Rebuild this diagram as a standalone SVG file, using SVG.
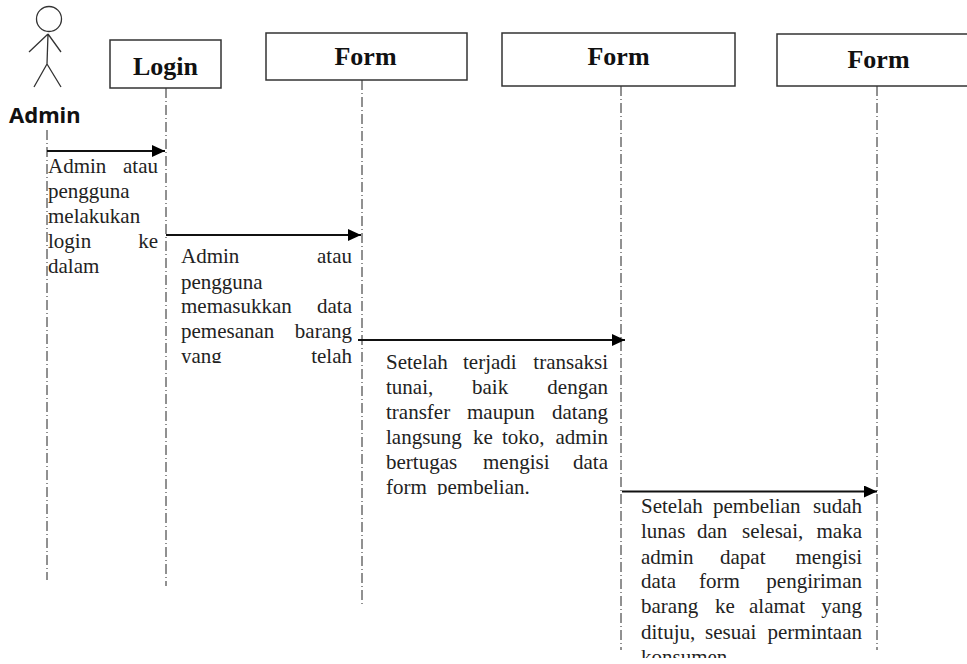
<svg xmlns="http://www.w3.org/2000/svg" width="967" height="664" viewBox="0 0 967 664">
<style>
.box{fill:#fff;stroke:#333;stroke-width:1.5}
.title{font-family:"Liberation Serif",serif;font-weight:bold;font-size:26px;fill:#111;text-anchor:middle}
.life{fill:none;stroke:#222;stroke-width:1;stroke-dasharray:10 3 1 3}
.msg{fill:none;stroke:#111;stroke-width:2;marker-end:url(#arrow)}
.t{font-family:"Liberation Serif",serif;font-size:21px;fill:#222}
.e{text-anchor:end}
.stick{fill:none;stroke:#333;stroke-width:1.3}
</style>
<defs>
<marker id="arrow" markerUnits="userSpaceOnUse" markerWidth="13" markerHeight="13" refX="13" refY="6" orient="auto"><path d="M0 0L13 6L0 12Z" fill="#000"/></marker>
<clipPath id="c2"><rect x="170" y="240" width="190" height="123"/></clipPath>
<clipPath id="c3"><rect x="370" y="345" width="245" height="150"/></clipPath>
<clipPath id="c4"><rect x="630" y="495" width="240" height="163"/></clipPath>
</defs>
<g id="connectors">
<path class="life" d="M47 130V580"/>
<path class="life" d="M166 88V586"/>
<path class="life" d="M362 80V606"/>
<path class="life" d="M621 86V650"/>
<path class="life" d="M877 86V650"/>
<path class="msg" d="M47 151H165"/>
<path class="msg" d="M166 235H361"/>
<path class="msg" d="M358 340H625"/>
<path class="msg" d="M622 491.500H877"/>
</g>
<g id="actor-admin">
<circle class="stick" cx="49" cy="19" r="12.500"/>
<path class="stick" d="M48 34L47 64M48 34L29 52M48 34L61 52M47 64L34 87M47 64L61 87"/>
<text x="9" y="123" font-family="'Noto Sans',sans-serif" font-weight="bold" font-size="22px" fill="#111">Admin</text>
</g>
<g id="node-login"><rect class="box" x="110" y="40" width="111" height="48"/><text class="title" x="165.500" y="75">Login</text></g>
<g id="node-form1"><rect class="box" x="266" y="33" width="201" height="47"/><text class="title" x="365.500" y="65">Form</text></g>
<g id="node-form2"><rect class="box" x="502" y="33" width="233" height="53"/><text class="title" x="618.500" y="65">Form</text></g>
<g id="node-form3"><rect class="box" x="777" y="34" width="192" height="52"/><text class="title" x="878.500" y="68">Form</text></g>
<g id="label-1">
<text class="t" x="48" y="173">Admin</text><text class="t e" x="158" y="173">atau</text>
<text class="t" x="48" y="198">pengguna</text>
<text class="t" x="48" y="223">melakukan</text>
<text class="t" x="48" y="248">login</text><text class="t e" x="158" y="248">ke</text>
<text class="t" x="48" y="273">dalam</text>
</g>
<g id="label-2" clip-path="url(#c2)">
<text class="t" x="181" y="263">Admin</text><text class="t e" x="352" y="263">atau</text>
<text class="t" x="181" y="289">pengguna</text>
<text class="t" x="181" y="313">memasukkan</text><text class="t e" x="352" y="313">data</text>
<text class="t" x="181" y="338">pemesanan</text><text class="t e" x="352" y="338">barang</text>
<text class="t" x="181" y="363">yang</text><text class="t e" x="352" y="363">telah</text>
</g>
<g id="label-3" clip-path="url(#c3)">
<text class="t" x="386" y="369">Setelah</text><text class="t" x="463" y="369">terjadi</text><text class="t e" x="608" y="369">transaksi</text>
<text class="t" x="386" y="394">tunai,</text><text class="t" x="472" y="394">baik</text><text class="t e" x="608" y="394">dengan</text>
<text class="t" x="386" y="419">transfer</text><text class="t" x="467" y="419">maupun</text><text class="t e" x="608" y="419">datang</text>
<text class="t" x="386" y="444">langsung</text><text class="t" x="473" y="444">ke</text><text class="t" x="502" y="444">toko,</text><text class="t e" x="608" y="444">admin</text>
<text class="t" x="386" y="469">bertugas</text><text class="t" x="483" y="469">mengisi</text><text class="t e" x="608" y="469">data</text>
<text class="t" x="386" y="494">form</text><text class="t" x="437" y="494">pembelian.</text>
</g>
<g id="label-4" clip-path="url(#c4)">
<text class="t" x="641" y="513">Setelah</text><text class="t" x="713" y="513">pembelian</text><text class="t e" x="862" y="513">sudah</text>
<text class="t" x="641" y="538">lunas</text><text class="t" x="697" y="538">dan</text><text class="t" x="742" y="538">selesai,</text><text class="t e" x="862" y="538">maka</text>
<text class="t" x="641" y="564">admin</text><text class="t" x="720" y="564">dapat</text><text class="t e" x="862" y="564">mengisi</text>
<text class="t" x="641" y="588">data</text><text class="t" x="699" y="588">form</text><text class="t e" x="862" y="588">pengiriman</text>
<text class="t" x="641" y="613">barang</text><text class="t" x="715" y="613">ke</text><text class="t" x="749" y="613">alamat</text><text class="t e" x="862" y="613">yang</text>
<text class="t" x="641" y="639">dituju,</text><text class="t" x="705" y="639">sesuai</text><text class="t e" x="862" y="639">permintaan</text>
<text class="t" x="641" y="664">konsumen</text>
</g>
</svg>
